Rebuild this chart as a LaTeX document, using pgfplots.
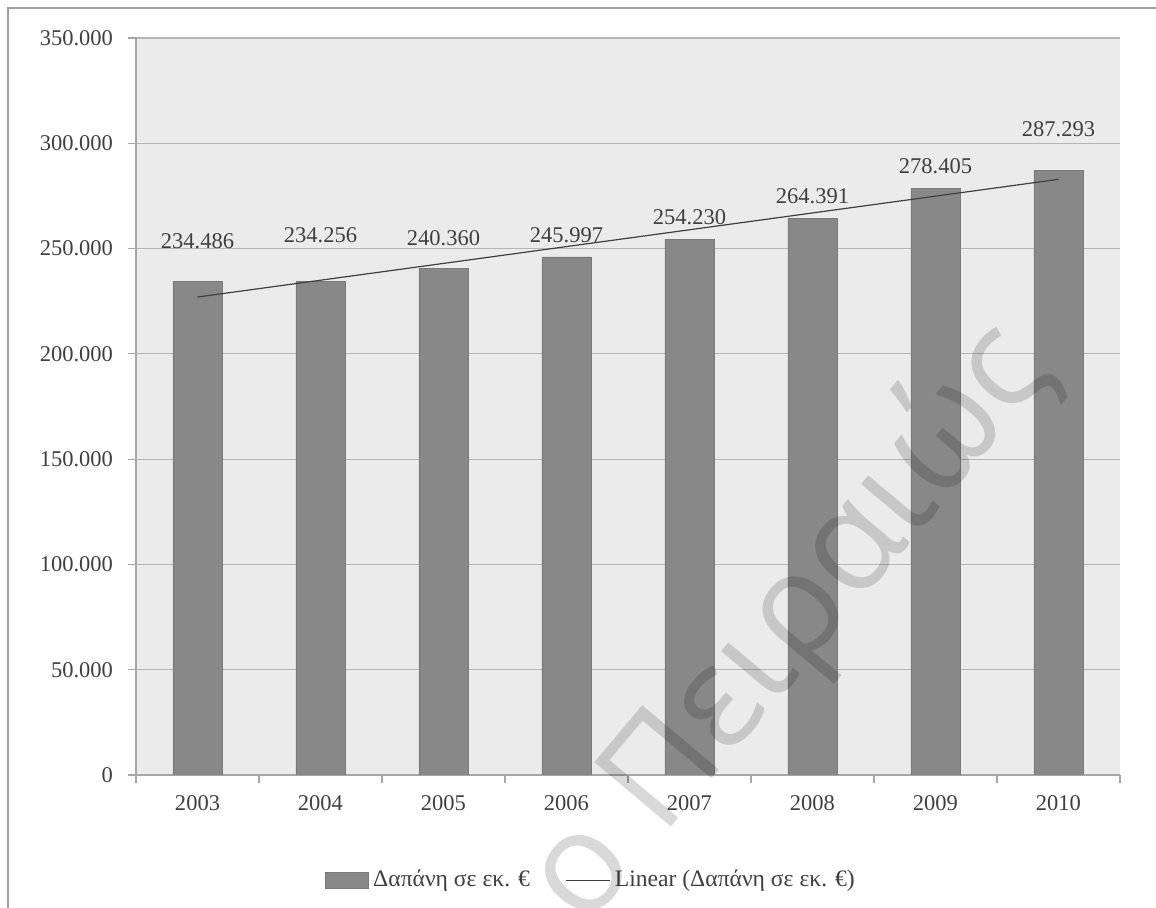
\documentclass[border=0pt]{standalone}
\usepackage{pgfplots}
\pgfplotsset{compat=1.18}
\usepackage{pgfplotstable}
\usepackage{fontspec}
\setmainfont{Liberation Serif}
\newfontfamily\wmfont{Open Sans}
\definecolor{barc}{HTML}{888888}
\definecolor{baredge}{HTML}{7A7A7A}
\definecolor{bgc}{HTML}{EBEBEB}
\definecolor{gridc}{HTML}{B5B5B5}
\definecolor{axc}{HTML}{A6A6A6}
\definecolor{txt}{HTML}{3F3F3F}
\definecolor{framec}{HTML}{9E9E9E}
\definecolor{trend}{HTML}{404040}

\pgfplotstableread{
x val
0 234486
1 234256
2 240360
3 245997
4 254230
5 264391
6 278405
7 287293
}\bars

\pgfplotstableread{
x ypos label
0 253600 234.486
1 256445 234.256
2 255020 240.360
3 256445 245.997
4 265000 254.230
5 274640 264.391
6 288890 278.405
7 306780 287.293
}\labels

\begin{document}
\begin{tikzpicture}
\begin{axis}[
  at={(0,0)}, anchor=south west,
  scale only axis,
  width=492pt, height=368.5pt,
  xmin=-0.5, xmax=7.5,
  ymin=0, ymax=350000,
  axis x line*=bottom, axis y line*=left,
  axis line style={draw=axc, line width=0.6pt, -},
  axis background/.style={fill=bgc},
  xtick={0,...,7},
  xticklabels={2003,2004,2005,2006,2007,2008,2009,2010},
  minor xtick={-0.5,0.5,...,7.5},
  major x tick style={draw=none},
  minor x tick style={draw=axc, line width=0.6pt},
  ytick={0,50000,...,350000},
  major y tick style={draw=axc, line width=0.6pt},
  tick align=outside,
  major tick length=4pt,
  minor tick length=4pt,
  ymajorgrids=true,
  xmajorgrids=false, xminorgrids=false,
  grid style={draw=gridc, line width=0.6pt},
  scaled y ticks=false,
  /pgf/number format/assume math mode=true,
  /pgf/number format/1000 sep={.},
  yticklabel style={/pgf/number format/fixed, /pgf/number format/precision=0, xshift=-4pt},
  xticklabel style={yshift=-2.5pt},
  ticklabel style={font=\fontsize{11.25}{13}\selectfont, text=txt},
  legend style={at={(0.4635,-0.1425)}, anchor=center, draw=none, fill=none,
    font=\fontsize{11.8}{13}\selectfont, text=txt, legend columns=2,
    /tikz/every even column/.append style={column sep=16pt},
    inner sep=0pt},
  legend cell align=left,
]
\addplot[ybar, bar width=24.5pt, fill=barc, draw=baredge, line width=0.4pt,
  legend image code/.code={\draw[fill=barc,draw=baredge,line width=0.4pt] (0pt,-4pt) rectangle (21.5pt,4pt);}]
  table[x=x, y=val] {\bars};
\addlegendentry{Δαπάνη σε εκ. €}
\addplot[draw=trend, line width=0.6pt, mark=none,
  legend image code/.code={\draw[draw=trend,line width=0.5pt] (0pt,0pt) -- (22pt,0pt);}]
  coordinates {(0,226981) (7,282874)};
\addlegendentry{Linear (Δαπάνη σε εκ. €)}
\addplot[draw=none, mark=none, forget plot, nodes near coords,
  point meta=explicit symbolic,
  every node near coord/.style={anchor=center, inner sep=0pt, text=txt, font=\fontsize{11.25}{13}\selectfont}]
  table[x=x, y=ypos, meta=label] {\labels};
\end{axis}
\begin{scope}[x=0.5pt, y=-0.5pt, shift={(-68pt,387.5pt)}]
  \draw[framec, line width=0.8pt] (8,910) -- (8,8) -- (1160,8);
  \node[anchor=base west, rotate=50, inner sep=0pt, font=\wmfont\fontsize{70}{70}\selectfont, text=black, text opacity=0.15] at (585,930) {ο Πειραιώς};
\end{scope}
\pgfresetboundingbox
\begin{scope}[x=0.5pt, y=-0.5pt, shift={(-68pt,387.5pt)}]
  \path[use as bounding box] (0,0) rectangle (1156,908);
\end{scope}
\end{tikzpicture}
\end{document}
